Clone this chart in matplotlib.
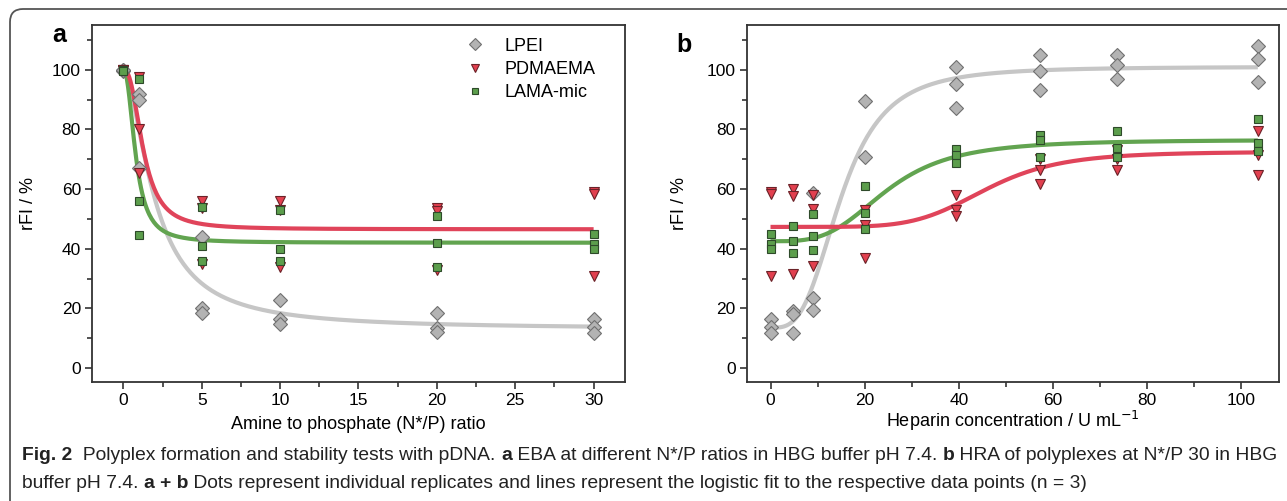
import numpy as np
import matplotlib
matplotlib.use("Agg")
import matplotlib.pyplot as plt
from matplotlib import font_manager
from matplotlib.patches import FancyBboxPatch
from matplotlib.lines import Line2D
import matplotlib.transforms as mtransforms

# ---- data: panel a (EBA, N*/P ratio) ----
np_ratio = [0, 1, 5, 10, 20, 30]
lpei_a = [[100, 99.5, 100], [92, 90, 67], [44, 20, 18.3], [22.7, 16.5, 14.8],
          [18.5, 13.5, 12.2], [16.3, 13.9, 11.9]]
pdmaema_a = [[100, 100, 100], [97.5, 80, 65.5], [56, 53.5, 35], [56, 53, 34],
             [53.5, 52.5, 33], [59, 58.5, 31]]
lama_a = [[100, 100, 99.5], [97, 56, 44.5], [54, 41, 36], [53, 40, 36],
          [51, 42, 34], [45, 41.5, 40]]

# ---- data: panel b (HRA, heparin) ----
heparin = [0, 4.7, 9.1, 20, 39.3, 57.2, 73.6, 103.5]
lpei_b = [[16.3, 13.9, 11.9], [19, 18, 11.6], [58.6, 23.4, 19.5], [89.4, 70.9, np.nan],
          [101, 95.3, 87.1], [104.8, 99.7, 93.3], [105, 101.7, 96.9], [107.8, 103.6, 95.8]]
pdmaema_b = [[59, 58.5, 31], [60, 57.5, 31.5], [58, 53.4, 34.2], [53, 48, 36.8],
             [58, 53, 50.8], [70, 66.4, 61.7], [73, 70, 66.4], [79.6, 71.5, 64.8]]
lama_b = [[45, 41.5, 40], [47.7, 42.7, 38.5], [51.6, 44.1, 39.4], [60.9, 51.9, 46.5],
          [73.4, 71.5, 68.7], [78, 76.5, 70.7], [79.3, 73.9, 70.7], [83.6, 75.4, 72.6]]

# logistic fit parameters (A1, A2, x0, p)
fit_lpei_a = (100, 13, 2.02, 1.70)
fit_pdmaema_a = (100, 46.5, 1.275, 2.46)
fit_lama_a = (100, 42, 0.80, 2.25)
fit_lpei_b = (13.5, 101, 15.0, 3.2)
fit_pdmaema_b = (47.3, 72.5, 45.8, 5.77)
fit_lama_b = (42.5, 76.5, 24.7, 3.47)

names = ['LPEI', 'PDMAEMA', 'LAMA-mic']


def logistic(x, params):
    a1, a2, x0, p = params
    return a2 + (a1 - a2) / (1 + (x / x0) ** p)


installed = {f.name for f in font_manager.fontManager.ttflist}
main_font = 'Liberation Sans' if 'Liberation Sans' in installed else 'DejaVu Sans'
cap_font = 'Liberation Sans Narrow' if 'Liberation Sans Narrow' in installed else main_font
plt.rcParams['font.family'] = [main_font, 'DejaVu Sans']

styles = {
    'LPEI': dict(marker='D', ms=7.5, mfc='#b3b3b3', mec='#707070', line='#c6c6c6'),
    'PDMAEMA': dict(marker='v', ms=7.5, mfc='#e2404f', mec='#6b2228', line='#e0445a'),
    'LAMA-mic': dict(marker='s', ms=5.8, mfc='#5c9e4c', mec='#2e4a2a', line='#62a450'),
}

fig = plt.figure(figsize=(12.87, 5.01), dpi=100)

# rounded frame around the whole figure
frame = FancyBboxPatch((0.10, -0.4), 13.2, 5.32, boxstyle="round,pad=0,rounding_size=0.13",
                       transform=fig.dpi_scale_trans, fc='none', ec='#555555', lw=1.3)
fig.add_artist(frame)

ax_a = fig.add_axes([0.0715, 0.2375, 0.4141, 0.7126])
ax_b = fig.add_axes([0.5804, 0.2375, 0.4134, 0.7126])


def scatter_group(ax, xs, groups, name):
    st = styles[name]
    xx, yy = [], []
    for x, vals in zip(xs, groups):
        for v in vals:
            xx.append(x)
            yy.append(v)
    ax.plot(xx, yy, ls='none', marker=st['marker'], ms=st['ms'], mfc=st['mfc'],
            mec=st['mec'], mew=0.8, zorder=4)


def fit_line(ax, x_end, params, name):
    xs = np.linspace(0, x_end, 400)
    ax.plot(xs, logistic(xs, params), color=styles[name]['line'], lw=3, zorder=3,
            solid_capstyle='butt')


# panel a
fit_line(ax_a, 30, fit_lpei_a, 'LPEI')
fit_line(ax_a, 30, fit_lama_a, 'LAMA-mic')
fit_line(ax_a, 30, fit_pdmaema_a, 'PDMAEMA')
scatter_group(ax_a, np_ratio, lpei_a, 'LPEI')
scatter_group(ax_a, np_ratio, pdmaema_a, 'PDMAEMA')
scatter_group(ax_a, np_ratio, lama_a, 'LAMA-mic')

# panel b
fit_line(ax_b, heparin[-1], fit_lpei_b, 'LPEI')
fit_line(ax_b, heparin[-1], fit_lama_b, 'LAMA-mic')
fit_line(ax_b, heparin[-1], fit_pdmaema_b, 'PDMAEMA')
scatter_group(ax_b, heparin, lpei_b, 'LPEI')
scatter_group(ax_b, heparin, pdmaema_b, 'PDMAEMA')
scatter_group(ax_b, heparin, lama_b, 'LAMA-mic')

for ax in (ax_a, ax_b):
    ax.set_ylim(-4.7, 115)
    ax.set_yticks(range(0, 101, 20))
    ax.set_yticks(range(0, 111, 10), minor=True)
    for sp in ax.spines.values():
        sp.set_color('#333333')
        sp.set_linewidth(1.3)
    ax.tick_params(which='both', direction='out', color='#333333', width=1.2,
                   labelsize=12.5, top=False, right=False)
    ax.tick_params(which='major', length=5, pad=3)
    ax.tick_params(which='minor', length=3.5)
    ax.set_ylabel('rFI / %', fontsize=13)

ax_a.yaxis.set_label_coords(-0.103, 0.5)
ax_b.yaxis.set_label_coords(-0.111, 0.5)

ax_a.set_xlim(-2, 32)
ax_a.set_xticks(range(0, 31, 5))
ax_a.set_xticks(np.arange(0, 31, 2.5), minor=True)
ax_a.set_xlabel('Amine to phosphate (N*/P) ratio', fontsize=13, va='center')

ax_b.set_xlim(-5, 108)
ax_b.set_xticks(range(0, 101, 20))
ax_b.set_xticks(range(0, 101, 10), minor=True)
ax_b.set_xlabel('Heparin concentration / U mL$^{-1}$', fontsize=13, va='center')

ax_a.xaxis.set_label_coords(0.5, -0.118)
ax_b.xaxis.set_label_coords(0.5, -0.109)

handles = [Line2D([], [], ls='none', marker=styles[n]['marker'], ms=styles[n]['ms'] * 0.85,
                  mfc=styles[n]['mfc'], mec=styles[n]['mec'], mew=0.8) for n in names]
ax_a.legend(handles, names, loc='upper left', bbox_to_anchor=(0.668, 1.01), frameon=False,
            fontsize=13, handletextpad=1.0, labelspacing=0.35, handlelength=1.2)

fig.text(52 / 1287, 1 - 35 / 501, 'a', fontsize=18, fontweight='bold', ha='left', va='center')
fig.text(676 / 1287, 1 - 45 / 501, 'b', fontsize=18, fontweight='bold', ha='left', va='center')

# caption with mixed bold segments
line1 = [("Fig. 2", 'bold'), ("  Polyplex formation and stability tests with pDNA. ", 'normal'),
         ("a", 'bold'), (" EBA at different N*/P ratios in HBG buffer pH 7.4. ", 'normal'),
         ("b", 'bold'), (" HRA of polyplexes at N*/P 30 in HBG", 'normal')]
line2 = [("buffer pH 7.4. ", 'normal'), ("a + b", 'bold'),
         (" Dots represent individual replicates and lines represent the logistic fit to the "
          "respective data points (n = 3)", 'normal')]

renderer = fig.canvas.get_renderer()
ident = mtransforms.IdentityTransform()


def draw_line(segs, x, y, size, draw=True):
    arts = []
    for s, w in segs:
        t = fig.text(x, y, s, fontsize=size, fontweight=w, family=[cap_font, 'DejaVu Sans'],
                     color='#222222', ha='left', va='center', transform=ident)
        x += t.get_window_extent(renderer).width
        arts.append(t)
    if not draw:
        for t in arts:
            t.remove()
    return x


start_x = 22
end_x = draw_line(line1, start_x, 46, 12, draw=False)
cap_size = 12 * (1276 - start_x) / (end_x - start_x)
cap_size = min(cap_size, 15)
draw_line(line1, start_x, 501 - 456, cap_size)
draw_line(line2, start_x, 501 - 483, cap_size)

fig.savefig('out.png', dpi=100)
